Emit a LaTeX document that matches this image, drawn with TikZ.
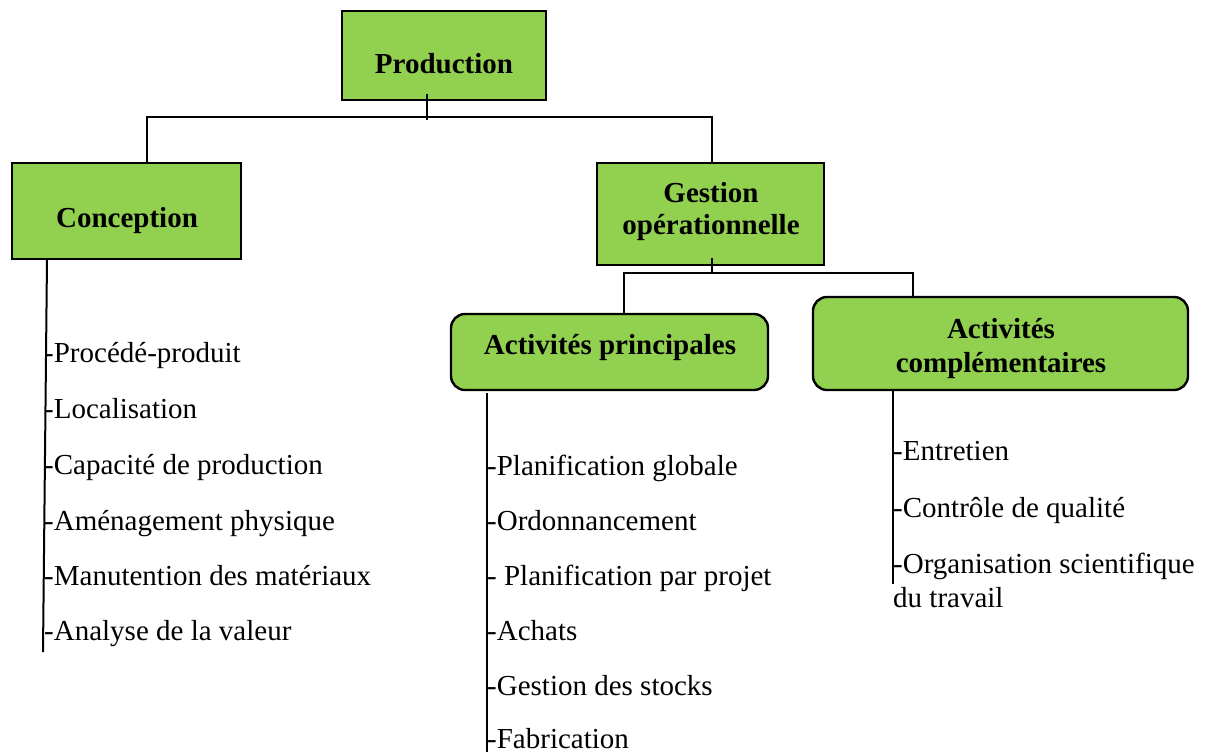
\documentclass[tikz,border=0pt]{standalone}
\usepackage{fontspec}
\setmainfont{Liberation Serif}
\definecolor{boxgreen}{HTML}{92D050}
\begin{document}
\begin{tikzpicture}[x=1pt,y=-1pt,
  box/.style={draw=black, fill=boxgreen, line width=2.4pt, inner sep=0pt, outer sep=0pt},
  rbox/.style={box, rounded corners=14pt},
  btext/.style={font=\fontsize{29}{33}\selectfont\bfseries, inner sep=0pt, anchor=base},
  item/.style={font=\fontsize{29}{33}\selectfont, inner sep=0pt, anchor=base west},
  conn/.style={line width=2pt, draw=black}]
\useasboundingbox (0,0) rectangle (1213,753);

% boxes
\node[box, minimum width=204pt, minimum height=89pt] (prod) at (444,55.5) {};
\node[btext] (prodt) at (444,73) {Production};

\node[box, minimum width=229pt, minimum height=96pt] (concept) at (126.5,211) {};
\node[btext] (conceptt) at (127,227) {Conception};

\node[box, minimum width=227pt, minimum height=102pt] (gestion) at (710.5,214) {};
\node[btext] (gestt1) at (711,202) {Gestion};
\node[btext] (gestt2) at (711,234) {opérationnelle};

\node[rbox, minimum width=317pt, minimum height=76pt] (princ) at (609.5,352) {};
\node[btext] (princt) at (610,354) {Activités principales};

\node[rbox, minimum width=375pt, minimum height=93pt] (compl) at (1000.5,343.5) {};
\node[btext] (complt1) at (1001,338) {Activités};
\node[btext] (complt2) at (1001,372) {complémentaires};

% connectors
\coordinate (busL) at (147,117);
\coordinate (busR) at (712,117);
\draw[conn] (concept.north -| busL) -- (busL) -- (busR) -- (gestion.north -| busR);
\draw[conn] ([xshift=-17.5pt,yshift=6pt]prod.south) -- ++(0,26);

\coordinate (b2L) at (624,273);
\coordinate (b2R) at (913,273);
\coordinate (b2M) at (712,273);
\draw[conn] (princ.north -| b2L) -- (b2L) -- (b2R) -- (compl.north -| b2R);
\draw[conn] ([xshift=1.5pt,yshift=7pt]gestion.south) -- (b2M);

% list lines
\coordinate (cEnd) at (43,652);
\draw[conn] ([xshift=-79.5pt]concept.south) -- (cEnd);
\coordinate (pEnd) at (487,752);
\draw[conn] ([xshift=-122.5pt,yshift=-3pt]princ.south) -- (pEnd);
\coordinate (qEnd) at (893,584);
\draw[conn] ([xshift=-107.5pt]compl.south) -- (qEnd);

% Conception items
\node[item] (c1) at (44,362) {-Procédé-produit};
\node[item] (c2) at (44,418) {-Localisation};
\node[item] (c3) at (44,474) {-Capacité de production};
\node[item] (c4) at (44,530) {-Aménagement physique};
\node[item] (c5) at (44,585) {-Manutention des matériaux};
\node[item] (c6) at (44,640) {-Analyse de la valeur};

% Activites principales items
\node[item] (p1) at (487,475) {-Planification globale};
\node[item] (p2) at (487,530) {-Ordonnancement};
\node[item] (p3) at (487,585) {- Planification par projet};
\node[item] (p4) at (487,640) {-Achats};
\node[item] (p5) at (487,695) {-Gestion des stocks};
\node[item] (p6) at (487,748) {-Fabrication};

% Activites complementaires items
\node[item] (q1) at (893,460) {-Entretien};
\node[item] (q2) at (893,517) {-Contrôle de qualité};
\node[item] (q3) at (893,573) {-Organisation scientifique};
\node[item] (q4) at (893,607) {du travail};
\end{tikzpicture}
\end{document}
